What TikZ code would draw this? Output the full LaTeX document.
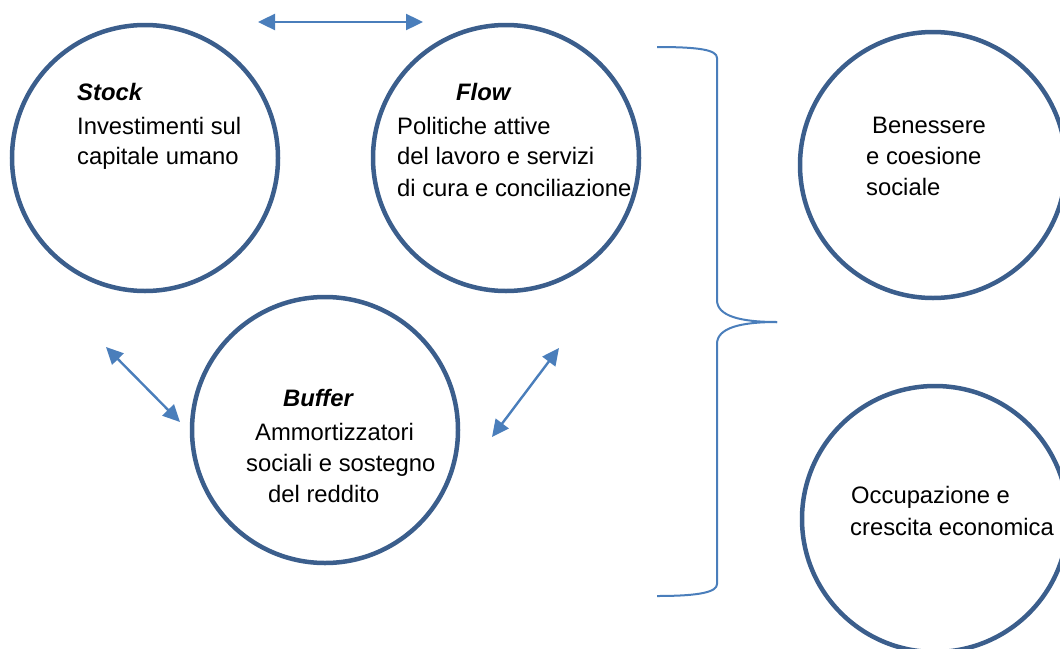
\documentclass[tikz,border=0pt]{standalone}
\usepackage{fontspec}
\setmainfont{Liberation Sans}
\usetikzlibrary{arrows.meta}
\definecolor{circ}{HTML}{3B5E8C}
\definecolor{arr}{HTML}{4A7EBB}
\begin{document}
\begin{tikzpicture}[x=1pt,y=-1pt,
  ring/.style={draw=circ, line width=4.5pt, circle, minimum size=266pt, inner sep=0pt},
  txt/.style={anchor=base west, inner sep=0pt, font=\fontsize{23.8}{28}\selectfont},
  hd/.style={anchor=base west, inner sep=0pt, font=\fontsize{23.8}{28}\selectfont\bfseries\itshape},
  dbl/.style={draw=arr, line width=2.4pt, {Triangle[length=17pt,width=16pt]}-{Triangle[length=17pt,width=16pt]}},
  bracepath/.style={draw=arr, line width=2pt}]
\useasboundingbox (0,0) rectangle (1060,648);

% circles
\node[ring] (stock) at (145,158) {};
\node[ring] (flow) at (506,158) {};
\node[ring] (buffer) at (325,430) {};
\node[ring] (ben) at (933,165) {};
\node[ring] (occ) at (935,519) {};

% texts
\node[hd]  (t1) at (77,100) {Stock};
\node[txt] (t2) at (77,134) {Investimenti sul};
\node[txt] (t3) at (77,164) {capitale umano};

\node[hd]  (f1) at (456,100) {Flow};
\node[txt] (f2) at (397,134) {Politiche attive};
\node[txt] (f3) at (397,164) {del lavoro e servizi};
\node[txt] (f4) at (397,196) {di cura e conciliazione};

\node[hd]  (b1) at (283,406) {Buffer};
\node[txt] (b2) at (255,440) {Ammortizzatori};
\node[txt] (b3) at (246,471) {sociali e sostegno};
\node[txt] (b4) at (268,502) {del reddito};

\node[txt] (w1) at (872,133) {Benessere};
\node[txt] (w2) at (866,164) {e coesione};
\node[txt] (w3) at (866,195) {sociale};

\node[txt] (o1) at (851,503) {Occupazione e};
\node[txt] (o2) at (850,535) {crescita economica};

% arrows
\coordinate (a1) at (258,22);
\coordinate (a2) at (423,22);
\coordinate (a3) at (106,347);
\coordinate (a4) at (180,422);
\coordinate (a5) at (492,437);
\coordinate (a6) at (559,348);
\draw[dbl] (a1) -- (a2);
\draw[dbl] (a3) -- (a4);
\draw[dbl] (a5) -- (a6);

% brace
\coordinate (btop) at (657,47);
\coordinate (btip) at (777,322);
\coordinate (bbot) at (657,596);
\draw[bracepath] (btop) .. controls (700,47) and (717,50) .. (717,58) -- (717,300)
  .. controls (717,316) and (740,322) .. (btip);
\draw[bracepath] (btip) .. controls (740,322) and (717,328) .. (717,344) -- (717,584)
  .. controls (717,592) and (700,596) .. (bbot);
\end{tikzpicture}
\end{document}
